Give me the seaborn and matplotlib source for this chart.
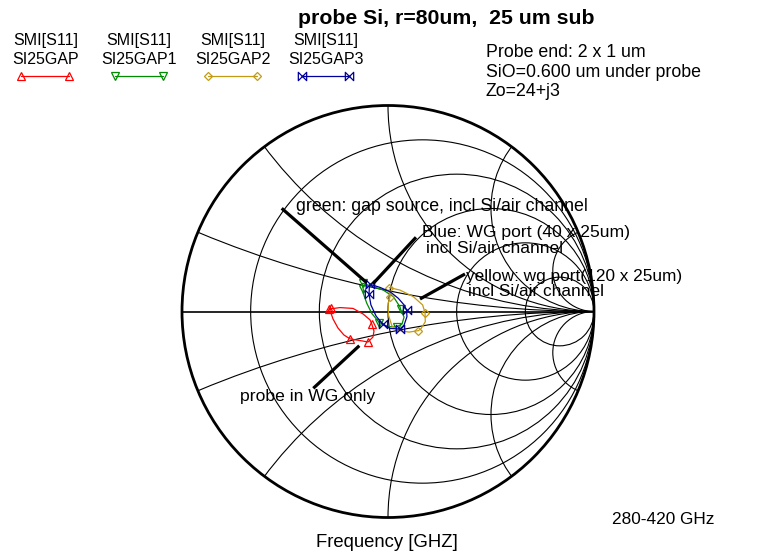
import numpy as np
import pandas as pd
import matplotlib
matplotlib.use("Agg")
import matplotlib.pyplot as plt
import seaborn as sns
from matplotlib.patches import Circle
from matplotlib.path import Path

sns.set_theme(style="white")
plt.rcParams['font.family'] = ['Liberation Sans', 'DejaVu Sans']

# ---------------- data (reflection coefficient, real / imag) ----------------
red_re = [-0.286, -0.233, -0.170, -0.121, -0.087, -0.078, -0.068, -0.073, -0.097,
          -0.136, -0.184, -0.214, -0.243, -0.267, -0.282, -0.279]
red_im = [0.012, 0.019, 0.015, -0.012, -0.041, -0.063, -0.095, -0.124, -0.148,
          -0.141, -0.133, -0.114, -0.080, -0.036, 0.007, 0.017]
red_mk = [0, 5, 8, 10, 15]

green_re = [-0.123, -0.071, -0.023, 0.026, 0.058, 0.061, 0.078, 0.068, 0.042,
            0.001, -0.042, -0.079, -0.103, -0.120, -0.120, -0.126]
green_im = [0.137, 0.120, 0.104, 0.072, 0.023, 0.011, -0.027, -0.061, -0.074,
            -0.074, -0.054, -0.009, 0.040, 0.088, 0.108, 0.133]
green_mk = [0, 5, 8, 10, 14]

yellow_re = [0.006, 0.058, 0.123, 0.168, 0.180, 0.181, 0.159, 0.147, 0.102,
             0.053, 0.019, 0.002, 0.001, 0.010, 0.006]
yellow_im = [0.116, 0.104, 0.072, 0.032, -0.006, -0.050, -0.085, -0.093, -0.100,
             -0.092, -0.070, -0.017, 0.040, 0.072, 0.108]
yellow_mk = [0, 4, 7, 13]

blue_re = [-0.087, -0.039, 0.010, 0.050, 0.078, 0.090, 0.092, 0.078, 0.058,
           0.010, -0.026, -0.058, -0.083, -0.092, -0.091, -0.086]
blue_im = [0.132, 0.117, 0.096, 0.064, 0.032, 0.007, -0.025, -0.066, -0.085,
           -0.082, -0.061, -0.022, 0.032, 0.083, 0.113, 0.129]
blue_mk = [0, 5, 8, 10, 13]

legend_top = ["SMI[S11]", "SMI[S11]", "SMI[S11]", "SMI[S11]"]
legend_names = ["SI25GAP", "SI25GAP1", "SI25GAP2", "SI25GAP3"]

r_circles = [0.2, 0.5, 1, 2, 5]
x_arcs = [0.2, 0.5, 1, 2, 5]

# ---------------- layout ----------------
W, H = 777, 554
CX, CY, R = 388.0, 311.5, 206.0

RED = "#ff0000"
GREEN = "#008c00"
YELLOW = "#c39b12"
BLUE = "#00009c"

bowtie = Path([(-1, 1), (-1, -1), (1, 1), (1, -1), (-1, 1)],
              [Path.MOVETO, Path.LINETO, Path.LINETO, Path.LINETO, Path.CLOSEPOLY])

fig = plt.figure(figsize=(W / 100, H / 100), dpi=100)
fig.patch.set_facecolor("white")

# overlay axes in pixel coordinates for annotations / legend
ov = fig.add_axes([0, 0, 1, 1], zorder=3)
ov.set_xlim(0, W)
ov.set_ylim(H, 0)
ov.axis("off")
ov.patch.set_alpha(0)

ax = fig.add_axes([(CX - 1.1 * R) / W, 1 - (CY + 1.1 * R) / H, 2.2 * R / W, 2.2 * R / H], zorder=2)
ax.set_xlim(-1.1, 1.1)
ax.set_ylim(-1.1, 1.1)
ax.set_aspect("equal")
ax.axis("off")

# Smith chart grid
clip = Circle((0, 0), 1, transform=ax.transData)
for r in r_circles:
    c = Circle((r / (1 + r), 0), 1 / (1 + r), fill=False, lw=0.8, ec="black", zorder=1)
    ax.add_patch(c)
for xv in x_arcs:
    for s in (1, -1):
        c = Circle((1, s / xv), 1 / xv, fill=False, lw=0.8, ec="black", zorder=1)
        ax.add_patch(c)
        c.set_clip_path(clip)
ax.plot([-1, 1], [0, 0], color="black", lw=1.2, zorder=1)
ax.add_patch(Circle((0, 0), 1, fill=False, lw=2.0, ec="black", zorder=2))

traces = [
    (red_re, red_im, red_mk, RED, "^"),
    (green_re, green_im, green_mk, GREEN, "v"),
    (yellow_re, yellow_im, yellow_mk, YELLOW, "D"),
    (blue_re, blue_im, blue_mk, BLUE, bowtie),
]
for re_, im_, mk, col, m in traces:
    df = pd.DataFrame({"re": re_, "im": im_})
    ms = 4.5 if m == "D" else 6
    sns.lineplot(data=df, x="re", y="im", sort=False, estimator=None, ax=ax,
                 color=col, lw=0.9, marker=m, markevery=mk, markersize=ms,
                 markerfacecolor="none", markeredgecolor=col, markeredgewidth=0.9,
                 zorder=5, legend=False)
ax.set_xlim(-1.1, 1.1)
ax.set_ylim(-1.1, 1.1)
ax.axis("off")

# ---------------- texts ----------------
def T(x, y, s, size, ha="left", va="baseline", **kw):
    ov.text(x, y, s, fontsize=size, ha=ha, va=va, color="black", **kw)

T(446, 23.5, "probe Si, r=80um,  25 um sub", 15.3, ha="center", weight="bold")

cols_c = [46, 139, 233, 326]
line_x = [(21, 69), (115, 163), (208, 257), (302, 349)]
for i, (c, (x0, x1)) in enumerate(zip(cols_c, line_x)):
    T(c, 45, legend_top[i], 11.5, ha="center")
    T(c, 63.5, legend_names[i], 11.5, ha="center")
    re_, im_, mk, col, m = traces[i]
    ms = 4.5 if m == "D" else 6
    ov.plot([x0, x1], [75.5, 75.5], color=col, lw=0.9, marker=m, markersize=ms,
            markerfacecolor="none", markeredgecolor=col, markeredgewidth=0.9)

T(486, 56.7, "Probe end: 2 x 1 um", 12.8)
T(486, 76.7, "SiO=0.600 um under probe", 12.8)
T(486, 96, "Zo=24+j3", 12.8)

T(296, 210.7, "green: gap source, incl Si/air channel", 12.8)
T(421.5, 236.7, "Blue: WG port (40 x 25um)", 12.6)
T(425.5, 253.3, "incl Si/air channel", 12.6)
T(465.5, 281.2, "yellow: wg port(120 x 25um)", 12.4)
T(467.5, 295.5, "incl Si/air channel", 12.4)
T(240.5, 401, "probe in WG only", 12.6)

T(611.5, 523.5, "280-420 GHz", 12.4)
T(316, 546.7, "Frequency [GHZ]", 13.3)

# annotation pointer lines
for (x0, y0, x1, y1) in [(281.7, 208.3, 366.7, 282.7),
                         (416.0, 237.3, 372.7, 284.0),
                         (465.0, 274.0, 420.0, 299.0),
                         (359.3, 345.7, 313.3, 388.3)]:
    ov.plot([x0, x1], [y0, y1], color="black", lw=2.3, solid_capstyle="butt")

fig.savefig("out.png", dpi=100, facecolor="white")
